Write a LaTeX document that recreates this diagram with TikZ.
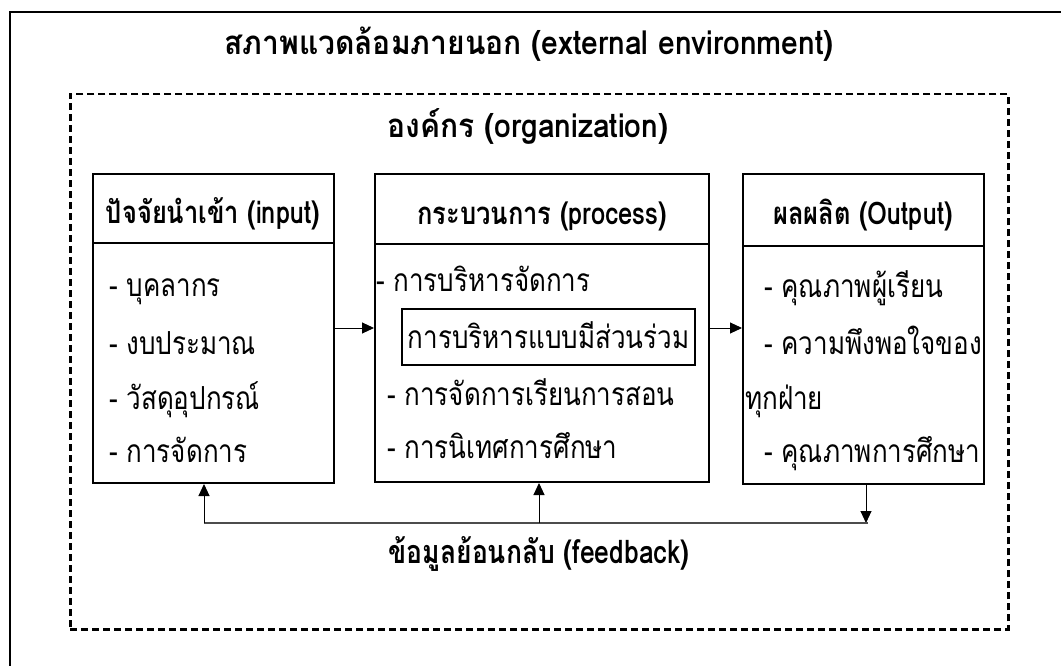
\documentclass[tikz,border=0pt]{standalone}
\usepackage{graphicx}
\usepackage{fontspec}
\setmainfont[Script=Thai]{Loma}
\usetikzlibrary{arrows.meta}
\newcommand\tallA[1]{\scalebox{1}[1.22]{#1}}
\newcommand\tallB[1]{\scalebox{1}[1.1]{#1}}
\begin{document}
\begin{tikzpicture}[x=1pt,y=-1pt,
  box/.style={draw, line width=2pt, inner sep=0pt},
  divline/.style={line width=2pt},
  arr/.style={line width=1pt, -{Triangle[width=11pt,length=12pt]}},
  fbline/.style={line width=1.5pt, draw=black!70},
  head/.style={font=\fontsize{25.5}{28}\selectfont\bfseries, inner sep=0pt, anchor=base},
  item/.style={font=\fontsize{26}{28}\selectfont, inner sep=0pt, anchor=base west},
  big/.style={font=\fontsize{30}{32}\selectfont\bfseries, inner sep=0pt, anchor=base}]
\useasboundingbox (0,0) rectangle (1061,666);
\clip (0,0) rectangle (1061,666);
% outer frame (runs beyond the page on right and bottom)
\node[box, minimum width=1080pt, minimum height=700pt, anchor=north west] (outer) at (9,11) {};
% dashed organization frame
\node[draw, line width=2.5pt, dash pattern=on 7pt off 4pt, inner sep=0pt,
      minimum width=938pt, minimum height=535pt, anchor=north west] (org) at (69,93) {};
\node[big] (title) at (529,55) {\tallB{สภาพแวดล้อมภายนอก (external environment)}};
\node[big] (orgtitle) at (528,138) {\tallB{องค์กร (organization)}};
% three boxes
\node[box, minimum width=241pt, minimum height=309pt] (inbox) at (213.5,328.5) {};
\node[box, minimum width=334pt, minimum height=308pt] (procbox) at (542,328) {};
\node[box, minimum width=241pt, minimum height=310pt] (outbox) at (863.5,329) {};
\coordinate (d1) at (93,243);
\coordinate (d2) at (375,244);
\coordinate (d3) at (743,246);
\draw[divline] (d1) -- (d1 -| inbox.east);
\draw[divline] (d2) -- (d2 -| procbox.east);
\draw[divline] (d3) -- (d3 -| outbox.east);
% headers
\node[head] (inhead) at (213,223) {\tallA{ปัจจัยนำเข้า (input)}};
\node[head] (prochead) at (542,225) {\tallA{กระบวนการ (process)}};
\node[head] (outhead) at (863,224) {\tallA{ผลผลิต (Output)}};
% input items
\node[item] (i1) at (109,296) {\tallA{- บุคลากร}};
\node[item] (i2) at (109,354) {\tallA{- งบประมาณ}};
\node[item] (i3) at (109,409) {\tallA{- วัสดุอุปกรณ์}};
\node[item] (i4) at (109,462) {\tallA{- การจัดการ}};
% process items
\node[item] (p1) at (376,291) {\tallA{- การบริหารจัดการ}};
\node[box, line width=1.5pt, minimum width=293pt, minimum height=56pt] (pbox) at (548.5,337) {};
\node[item, anchor=base] (p2) at (548.5,348) {\tallA{การบริหารแบบมีส่วนร่วม}};
\node[item] (p3) at (387,405) {\tallA{- การจัดการเรียนการสอน}};
\node[item] (p4) at (387,458) {\tallA{- การนิเทศการศึกษา}};
% output items
\node[item] (o1) at (764,297) {\tallA{- คุณภาพผู้เรียน}};
\node[item] (o2) at (764,354) {\tallA{- ความพึงพอใจของ}};
\node[item] (o3) at (745,409) {\tallA{ทุกฝ่าย}};
\node[item] (o4) at (764,462) {\tallA{- คุณภาพการศึกษา}};
% forward arrows
\draw[arr] (inbox.east |- 0,328) -- (procbox.west |- 0,328);
\draw[arr] (procbox.east |- 0,328) -- (outbox.west |- 0,328);
% feedback
\coordinate (fbR) at (866,523);
\coordinate (fbL) at (204,523);
\coordinate (fbM) at (539,523);
\draw[arr] (fbR |- outbox.south) -- (fbR);
\draw[fbline] (fbL) -- ([xshift=2pt]fbR);
\draw[arr] (fbL) -- (fbL |- inbox.south);
\draw[arr] (fbM) -- (fbM |- procbox.south);
\node[big, font=\fontsize{26.5}{30}\selectfont\bfseries] (fbtext) at (539,563) {\tallA{ข้อมูลย้อนกลับ (feedback)}};
\end{tikzpicture}
\end{document}
